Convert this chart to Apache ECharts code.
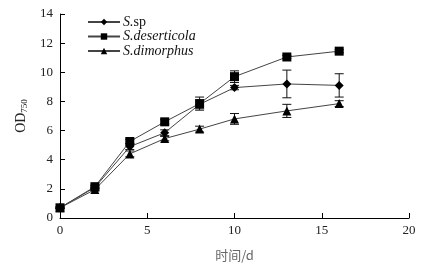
<!DOCTYPE html>
<html>
<head>
<meta charset="utf-8">
<script src="https://cdn.jsdelivr.net/npm/echarts@6/dist/echarts.min.js"></script>
<style>
  html, body { margin: 0; padding: 0; background: #fff; }
  #chart { width: 423px; height: 267px; }
</style>
</head>
<body>
<div id="chart"></div>
<script>
// 培养时间 (d)
const days = [0, 2, 4, 6, 8, 10, 13, 16];
// OD750 均值及误差
const spVals = [0.7, 2.1, 4.9, 5.85, 7.8, 8.95, 9.2, 9.1];
const spErr = [0.05, 0.1, 0.2, 0.2, 0.3, 0.15, 0.95, 0.8];
const desVals = [0.7, 2.15, 5.25, 6.6, 7.85, 9.7, 11.05, 11.45];
const desErr = [0.05, 0.1, 0.15, 0.15, 0.45, 0.4, 0.1, 0.1];
const dimVals = [0.7, 1.95, 4.4, 5.45, 6.1, 6.8, 7.35, 7.85];
const dimErr = [0.05, 0.1, 0.2, 0.15, 0.2, 0.37, 0.45, 0.2];
const names = ['S.sp', 'S.deserticola', 'S.dimorphus'];
const xTicks = [0, 5, 10, 15, 20];
const yTicks = [0, 2, 4, 6, 8, 10, 12, 14];

const serif = '"Liberation Serif", "Times New Roman", serif';
const lineColor = '#444';

const pairs = (vals) => days.map((d, i) => [d, vals[i]]);
const errData = (vals, errs) => days.map((d, i) => [d, vals[i], errs[i]]);

// 误差线
function errorBar(params, api) {
    const x = api.value(0), y = api.value(1), e = api.value(2);
    const hi = api.coord([x, y + e]);
    const lo = api.coord([x, y - e]);
    const w = 4.5;
    const style = { stroke: '#111', lineWidth: 1 };
    return {
        type: 'group',
        children: [
            { type: 'line', shape: { x1: hi[0], y1: hi[1], x2: lo[0], y2: lo[1] }, style },
            { type: 'line', shape: { x1: hi[0] - w, y1: hi[1], x2: hi[0] + w, y2: hi[1] }, style },
            { type: 'line', shape: { x1: lo[0] - w, y1: lo[1], x2: lo[0] + w, y2: lo[1] }, style }
        ]
    };
}

function lineSeries(name, vals, symbol, size) {
    return {
        name,
        type: 'line',
        data: pairs(vals),
        symbol,
        symbolSize: size,
        showAllSymbol: true,
        itemStyle: { color: '#000' },
        lineStyle: { color: lineColor, width: 1 },
        z: 3
    };
}
function errSeries(vals, errs) {
    return {
        type: 'custom',
        renderItem: errorBar,
        data: errData(vals, errs),
        encode: { x: 0, y: 1 },
        z: 2,
        silent: true
    };
}

const chart = echarts.init(document.getElementById('chart'));
const option = {
    backgroundColor: '#fff',
    animation: false,
    grid: { left: 60, right: 14, top: 14, bottom: 47 },
    legend: {
        left: 87,
        top: 15,
        padding: 0,
        orient: 'vertical',
        itemWidth: 32,
        itemHeight: 8,
        itemGap: 0.5,
        data: names,
        formatter: function (n) {
            if (n === 'S.sp') return '{i|S.}{n|sp}';
            return '{i|' + n + '}';
        },
        textStyle: {
            color: '#111',
            fontFamily: serif,
            fontSize: 14,
            lineHeight: 14,
            padding: [0, 0, 0, -2],
            rich: {
                i: { fontStyle: 'italic', fontFamily: serif, fontSize: 14, lineHeight: 14, color: '#111' },
                n: { fontFamily: serif, fontSize: 14, lineHeight: 14, color: '#111' }
            }
        }
    },
    xAxis: {
        type: 'value',
        min: 0, max: 20, interval: 5,
        name: '时间/d',
        nameLocation: 'middle',
        nameGap: 31,
        nameTextStyle: { color: '#666', fontSize: 13, fontFamily: '"Noto Sans CJK SC", serif' },
        axisLine: { lineStyle: { color: '#000', width: 1 } },
        axisTick: { inside: true, length: 5, lineStyle: { color: '#000' } },
        axisLabel: {
            color: '#222', fontFamily: serif, fontSize: 13, margin: 6,
            formatter: v => xTicks.includes(v) ? String(v) : ''
        },
        splitLine: { show: false }
    },
    yAxis: {
        type: 'value',
        min: 0, max: 14, interval: 2,
        name: 'OD{s|750}',
        nameLocation: 'middle',
        nameGap: 31,
        nameRotate: 90,
        nameTextStyle: {
            color: '#222', fontFamily: serif, fontSize: 14,
            rich: { s: { fontSize: 9, fontFamily: serif, color: '#222', verticalAlign: 'bottom', padding: [7, 0, 0, 0] } }
        },
        axisLine: { show: true, lineStyle: { color: '#000', width: 1 } },
        axisTick: { inside: true, length: 5, lineStyle: { color: '#000' } },
        axisLabel: {
            color: '#222', fontFamily: serif, fontSize: 13, margin: 7,
            formatter: v => yTicks.includes(v) ? String(v) : ''
        },
        splitLine: { show: false }
    },
    series: [
        errSeries(spVals, spErr),
        errSeries(desVals, desErr),
        errSeries(dimVals, dimErr),
        lineSeries(names[0], spVals, 'diamond', 9),
        lineSeries(names[1], desVals, 'rect', 9),
        lineSeries(names[2], dimVals, 'triangle', 9)
    ]
};
chart.setOption(option);
</script>
</body>
</html>
